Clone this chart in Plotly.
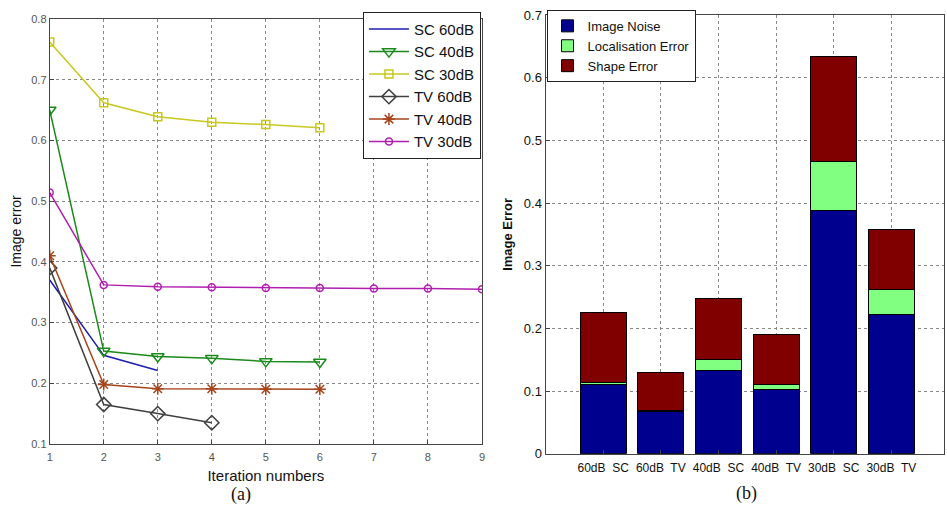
import plotly.graph_objects as go

# ---- Left panel data ----
iters = [1, 2, 3, 4, 5, 6, 7, 8, 9]
sc60 = [0.370, 0.246, 0.221]
sc40 = [0.650, 0.253, 0.244, 0.241, 0.236, 0.235]
sc30 = [0.762, 0.662, 0.639, 0.630, 0.626, 0.621]
tv60 = [0.390, 0.165, 0.150, 0.135]
tv40 = [0.410, 0.198, 0.191, 0.191, 0.190, 0.190]
tv30 = [0.514, 0.362, 0.359, 0.358, 0.357, 0.357, 0.356, 0.356, 0.355]

# ---- Right panel data ----
cats = ["60dB  SC", "60dB  TV", "40dB  SC", "40dB  TV", "30dB  SC", "30dB  TV"]
noise = [0.110, 0.067, 0.133, 0.102, 0.388, 0.222]
local = [0.003, 0.002, 0.017, 0.008, 0.078, 0.040]
shape = [0.113, 0.061, 0.098, 0.080, 0.168, 0.096]

fig = go.Figure()

line_specs = [
    ("SC 60dB", sc60, "#1f1fb0", None, 0),
    ("SC 40dB", sc40, "#1a8a1a", "triangle-down-open", 11),
    ("SC 30dB", sc30, "#c8c81e", "square-open", 8),
    ("TV 60dB", tv60, "#404040", "diamond-open", 11),
    ("TV 40dB", tv40, "#a8441a", "asterisk-open", 10),
    ("TV 30dB", tv30, "#b01eb0", "circle-open", 7),
]
for name, ys, col, sym, sz in line_specs:
    mode = "lines" if sym is None else "lines+markers"
    kw = dict(marker=dict(symbol=sym, size=sz, color=col, line=dict(color=col, width=1.5))) if sym else {}
    fig.add_trace(go.Scatter(x=iters[:len(ys)], y=ys, name=name, mode=mode,
                             line=dict(color=col, width=1.5), xaxis="x", yaxis="y",
                             legend="legend", **kw))

idx = list(range(1, len(cats) + 1))
for name, vals, col in [("Image Noise", noise, "#00008f"),
                        ("Localisation Error", local, "#80ff80"),
                        ("Shape Error", shape, "#800000")]:
    fig.add_trace(go.Bar(x=idx, y=vals, name=name, marker=dict(color=col, line=dict(color="#000000", width=1)),
                         width=0.8, xaxis="x2", yaxis="y2", legend="legend2"))

grid = dict(showgrid=True, gridcolor="#888888", griddash="dot", gridwidth=1, zeroline=False,
            showline=True, linecolor="#444444", linewidth=1, mirror=True, ticks="inside", ticklen=4,
            tickcolor="#444444")

fig.update_layout(
    width=947, height=518, margin=dict(l=0, r=0, t=0, b=0),
    paper_bgcolor="white", plot_bgcolor="white",
    barmode="stack", showlegend=True,
    font=dict(family="Liberation Sans, Arial, sans-serif", color="#222222"),
    xaxis=dict(domain=[47/947, 482/947], range=[1, 9], tickvals=iters, anchor="y",
               tickfont=dict(size=11, color="#555555"), ticklabelstandoff=3,
               title=dict(text="Iteration numbers", font=dict(size=15, color="#111111"), standoff=8), **grid),
    yaxis=dict(domain=[1-450/518, 1-12.3/518], range=[0.1, 0.8], dtick=0.1, tickformat=".1f",
               anchor="x", tickfont=dict(size=11, color="#555555"),
               title=dict(text="Image error", font=dict(size=14, color="#111111"), standoff=6), **grid),
    xaxis2=dict(domain=[546/947, 1.0], range=[0, 6.914], tickvals=idx, ticktext=cats, anchor="y2",
                tickfont=dict(size=12, color="#111111"), ticklabelstandoff=3, **grid),
    yaxis2=dict(domain=[1-460/518, 1-8.3/518], range=[0, 0.7], dtick=0.1, anchor="x2",
                tickfont=dict(size=13, color="#111111"),
                title=dict(text="<b>Image Error</b>", font=dict(size=13, color="#111111"), standoff=8), **grid),
    legend=dict(x=481/947, y=1-5/518, xanchor="right", yanchor="top", bgcolor="white",
                bordercolor="#222222", borderwidth=1, font=dict(size=15, color="#111111"),
                tracegroupgap=0, itemwidth=40, traceorder="normal"),
    legend2=dict(x=547/947, y=1-3/518, xanchor="left", yanchor="top", bgcolor="white",
                 bordercolor="#222222", borderwidth=1, font=dict(size=13, color="#111111"),
                 tracegroupgap=0, itemwidth=30, traceorder="normal"),
    annotations=[
        dict(text="(a)", x=240/947, y=1-502/518, xref="paper", yref="paper", showarrow=False,
             xanchor="center", yanchor="middle",
             font=dict(family="Liberation Serif, Times New Roman, serif", size=18, color="#111111")),
        dict(text="(b)", x=748/947, y=1-501/518, xref="paper", yref="paper", showarrow=False,
             xanchor="center", yanchor="middle",
             font=dict(family="Liberation Serif, Times New Roman, serif", size=18, color="#111111")),
    ],
)

fig.write_html("out.html")
